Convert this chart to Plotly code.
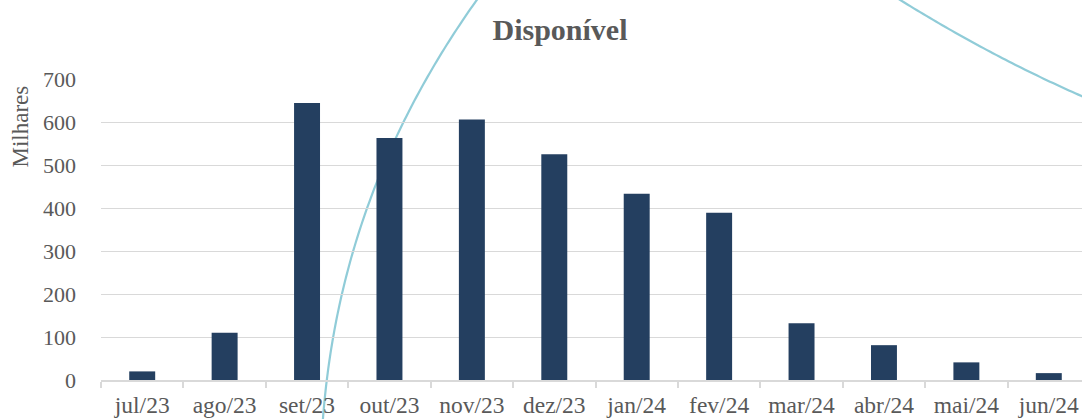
import numpy as np
import plotly.graph_objects as go

# ---- data ----
categories = ["jul/23", "ago/23", "set/23", "out/23", "nov/23", "dez/23",
              "jan/24", "fev/24", "mar/24", "abr/24", "mai/24", "jun/24"]
values = [20, 110, 644, 563, 606, 525, 433, 389, 132, 81, 41, 16]
y_ticks = [0, 100, 200, 300, 400, 500, 600, 700]
title_text = "Disponível"
y_title = "Milhares"

# ---- layout constants ----
W, H = 1082, 419
L, R, T, B = 101, 0, 79, 39
PW, PH = W - L - R, H - T - B
FONT = "'Liberation Serif', 'Times New Roman', 'DejaVu Serif', serif"
GREY = "#595959"

# decorative arc, traced in figure pixels (not data)
arc_left_y = [419, 380, 337, 295, 252, 207, 165, 123, 79, 0]
arc_left_x = [323, 327, 333, 341, 353, 368, 385, 402, 426, 477]
arc_right_x = [900, 930, 957, 980, 1013, 1043, 1082]
arc_right_y = [0, 18, 33, 47, 63, 79, 96]


def to_paper(px, py):
    return ((px - L) / PW, (H - B - py) / PH)


def poly_path(pts):
    d = ""
    for i, (px, py) in enumerate(pts):
        x, y = to_paper(px, py)
        d += ("M " if i == 0 else " L ") + f"{x:.5f},{y:.5f}"
    return d


cl = np.polyfit(arc_left_y, arc_left_x, 3)
ys = np.linspace(440, -30, 120)
left_pts = [(float(np.polyval(cl, y)), float(y)) for y in ys]

cr = np.polyfit(arc_right_x, arc_right_y, 2)
xs = np.linspace(860, 1110, 80)
right_pts = [(float(x), float(np.polyval(cr, x))) for x in xs]

fig = go.Figure()
fig.add_trace(go.Bar(
    x=categories, y=values,
    marker=dict(color="#243F60", line=dict(width=0)),
    width=0.315,
))

shapes = []
for pts in (left_pts, right_pts):
    shapes.append(dict(type="path", path=poly_path(pts), xref="paper", yref="paper",
                       line=dict(color="#90CCD8", width=2.2), layer="below"))

ncat = len(categories)
fig.update_layout(
    width=W, height=H,
    margin=dict(l=L, r=R, t=T, b=B, autoexpand=False),
    paper_bgcolor="white", plot_bgcolor="white",
    showlegend=False,
    font=dict(family=FONT, color=GREY, size=22),
    shapes=shapes,
    title=dict(text=f"<b>{title_text}</b>", x=560 / W, xref="container", xanchor="center",
               y=1 - 29 / H, yref="container", yanchor="middle",
               font=dict(family=FONT, size=30, color=GREY)),
    annotations=[dict(text=y_title, x=(19.5 - L) / PW, y=(H - B - 127) / PH,
                      xref="paper", yref="paper",
                      showarrow=False, textangle=-90, xanchor="center", yanchor="middle",
                      font=dict(family=FONT, size=23, color=GREY))],
    xaxis=dict(
        type="category", range=[-0.5, ncat - 0.5 - 8 / 82.4],
        showline=True, linecolor="#D9D9D9", linewidth=1.5,
        ticks="outside", tickson="boundaries", ticklen=6, tickcolor="#D9D9D9", tickwidth=1.5,
        showgrid=False, tickfont=dict(family=FONT, size=23.5, color=GREY),
        ticklabelstandoff=3,
    ),
    yaxis=dict(
        range=[0, 700], tickvals=y_ticks, showgrid=True, gridcolor="#D9D9D9", gridwidth=1.3,
        zeroline=False, showline=False, ticks="",
        tickfont=dict(family=FONT, size=22, color=GREY),
        ticklabelstandoff=24,
    ),
)

fig.write_html("out.html", config={"displayModeBar": False},
               post_script="document.body.style.margin='0';document.body.style.padding='0';")
